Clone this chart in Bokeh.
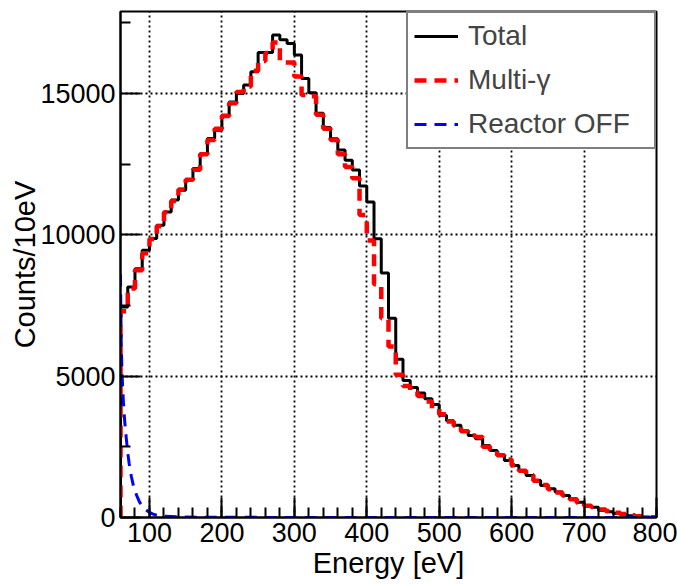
import numpy as np
from bokeh.plotting import figure
from bokeh.models import FixedTicker, Legend, LegendItem, Range1d
from bokeh.embed import file_html
from bokeh.resources import INLINE

# ---------------- data ----------------
BIN_LEFT = 60
BIN_WIDTH = 10

# Total (black), 10 eV bins from 60 to 800 eV
total_counts = [
    7450, 8150, 8800, 9450, 9870, 10340, 10810, 11230, 11580, 11930,
    12350, 12880, 13410, 13700, 14230, 14700, 15000, 15300, 15770, 16450,
    16450, 17070, 16900, 16770, 16360, 15530, 15030, 14300, 13800, 13400,
    13000, 12640, 12290, 11730, 11165, 9860, 8650, 7050, 5600, 4850,
    4600, 4400, 4200, 4000, 3620, 3420, 3260, 3080, 2900, 2790,
    2550, 2370, 2200, 2020, 1840, 1660, 1490, 1310, 1130, 1015,
    900, 780, 660, 540, 425, 365, 250, 200, 140, 100,
    60, 30, 15, 5,
]

# Multi-gamma (red dashed)
multi_gamma_counts = [
    7300, 8100, 8750, 9350, 9850, 10300, 10800, 11200, 11600, 11950,
    12300, 12850, 13350, 13750, 14200, 14650, 15050, 15250, 15800, 16150,
    16430, 16800, 16100, 16100, 15600, 14950, 14900, 14250, 13750, 13350,
    12850, 12400, 12000, 10700, 9800, 8250, 7050, 6050, 5050, 4650,
    4450, 4300, 4100, 3850, 3650, 3400, 3250, 3050, 2900, 2850,
    2500, 2400, 2200, 2050, 1850, 1650, 1500, 1300, 1150, 1000,
    880, 780, 650, 520, 420, 370, 280, 230, 170, 120,
    80, 40, 20, 10,
]

# Reactor OFF (blue dashed curve)
reactor_off_energy = [60, 60.5, 61, 62, 63, 64, 65, 66, 68, 70, 72, 75, 78, 82, 86,
                      90, 95, 100, 105, 110, 120, 140, 170, 200, 300, 800]
reactor_off_counts = [8600, 7300, 6200, 5200, 4600, 4100, 3700, 3350, 2800, 2300, 1900,
                      1450, 1100, 800, 560, 400, 270, 180, 120, 80, 45, 20, 10, 6, 3, 1]

x_major_ticks = [100, 200, 300, 400, 500, 600, 700, 800]
x_minor_ticks = list(range(60, 801, 20))
y_major_ticks = [0, 5000, 10000, 15000]
y_minor_ticks = [2500, 7500, 12500, 17500]

X_MIN, X_MAX = 60, 800
Y_MIN, Y_MAX = 0, 17900


def step_path(counts):
    edges = BIN_LEFT + BIN_WIDTH * np.arange(len(counts) + 1)
    xs = np.repeat(edges, 2)
    ys = np.concatenate([[0], np.repeat(np.asarray(counts, dtype=float), 2), [0]])
    return xs, ys


FONT = "Liberation Sans"

p = figure(width=677, height=588, x_range=Range1d(X_MIN, X_MAX), y_range=Range1d(Y_MIN, Y_MAX),
           output_backend="svg", toolbar_location=None, title=None,
           min_border_left=120, min_border_right=21, min_border_top=11, min_border_bottom=71)

p.background_fill_color = "white"
p.border_fill_color = "white"
p.outline_line_color = "black"
p.outline_line_width = 2

# grid
p.xgrid.ticker = FixedTicker(ticks=x_major_ticks)
p.ygrid.ticker = FixedTicker(ticks=y_major_ticks)
for g in (p.xgrid, p.ygrid):
    g.grid_line_color = "black"
    g.grid_line_dash = "2 3"
    g.grid_line_width = 1.8
    g.grid_line_alpha = 1.0

p.xaxis.ticker = FixedTicker(ticks=x_major_ticks, minor_ticks=x_minor_ticks)
p.yaxis.ticker = FixedTicker(ticks=y_major_ticks, minor_ticks=y_minor_ticks)

for ax in (p.xaxis[0], p.yaxis[0]):
    ax.axis_line_width = 2
    ax.axis_line_color = "black"
    ax.major_tick_line_width = 2
    ax.minor_tick_line_width = 2
    ax.major_tick_line_color = "black"
    ax.minor_tick_line_color = "black"
    ax.major_tick_in = 20
    ax.major_tick_out = 0
    ax.minor_tick_in = 10
    ax.minor_tick_out = 0
    ax.major_label_text_font = FONT
    ax.major_label_text_font_size = "27px"
    ax.major_label_text_color = "black"
    ax.axis_label_text_font = FONT
    ax.axis_label_text_font_size = "29px"
    ax.axis_label_text_font_style = "normal"
    ax.axis_label_text_color = "black"

p.xaxis.axis_label = "Energy [eV]"
p.yaxis.axis_label = "Counts/10eV"
p.xaxis.major_label_standoff = 5
p.xaxis.axis_label_standoff = 2
p.yaxis.major_label_standoff = 5
p.yaxis.axis_label_standoff = -4

# data
tx, ty = step_path(total_counts)
mx, my = step_path(multi_gamma_counts)

r_total = p.line(tx, ty, line_color="black", line_width=3)
r_multi = p.line(mx, my, line_color="#ff0000", line_width=4.5, line_dash="12 8")
r_off = p.line(reactor_off_energy, reactor_off_counts, line_color="#0000ff", line_width=3,
               line_dash="12 8")

legend = Legend(items=[LegendItem(label="Total", renderers=[r_total]),
                       LegendItem(label="Multi-γ", renderers=[r_multi]),
                       LegendItem(label="Reactor OFF", renderers=[r_off])],
                location="top_right", margin=0, padding=6, spacing=10,
                glyph_width=44, glyph_height=34, label_height=34, label_width=180,
                label_standoff=10, label_text_font=FONT, label_text_font_size="28px",
                border_line_color="black", border_line_width=2,
                background_fill_color="white", background_fill_alpha=1.0)
p.add_layout(legend)

open("out.html", "w").write(file_html(p, INLINE))
